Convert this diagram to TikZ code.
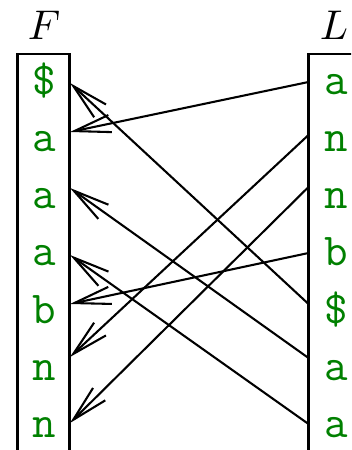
\documentclass[tikz,border=0pt]{standalone}
\usetikzlibrary{arrows.meta}
\definecolor{tgreen}{rgb}{0,0.5,0}
\begin{document}
\begin{tikzpicture}[x=0.2409pt,y=-0.2409pt,
  sym/.style={text=tgreen,font=\fontsize{11}{13}\selectfont\ttfamily,anchor=base,inner sep=0pt},
  lab/.style={anchor=base,inner sep=0pt},
  colbox/.style={draw,line width=0.5pt},
  link/.style={-{Straight Barb[length=8.8pt,width=4.2pt]},line width=0.5pt}]
\useasboundingbox (0,0) rectangle (351,450);
\clip (0,0) rectangle (351,450);
% columns
\draw[colbox] (17.5,54) rectangle (69.5,480);
\draw[colbox] (308.5,54) rectangle (366,480);
% labels
\node[lab] (F) at (44,40) {$F$};
\node[lab] (L) at (334,40) {$L$};
% F column
\node[sym] (f1) at (44,94.3) {\$};
\node[sym] (f2) at (44,151.5) {a};
\node[sym] (f3) at (44,208.7) {a};
\node[sym] (f4) at (44,265.9) {a};
\node[sym] (f5) at (44,323.1) {b};
\node[sym] (f6) at (44,380.3) {n};
\node[sym] (f7) at (44,437.5) {n};
% L column
\node[sym] (l1) at (336,94.3) {a};
\node[sym] (l2) at (336,151.5) {n};
\node[sym] (l3) at (336,208.7) {n};
\node[sym] (l4) at (336,265.9) {b};
\node[sym] (l5) at (336,323.1) {\$};
\node[sym] (l6) at (336,380.3) {a};
\node[sym] (l7) at (336,437.5) {a};
% connector end points
\coordinate (fe1) at (70,83);
\coordinate (fe2) at (70,132);
\coordinate (fe3) at (70,188);
\coordinate (fe4) at (70,255);
\coordinate (fe5) at (70,304);
\coordinate (fe6) at (70,357);
\coordinate (fe7) at (70,423);
\coordinate (le1) at (308.5,82);
\coordinate (le2) at (308.5,135);
\coordinate (le3) at (308.5,187);
\coordinate (le4) at (308.5,253);
\coordinate (le5) at (308.5,304);
\coordinate (le6) at (308.5,358);
\coordinate (le7) at (308.5,424);
% LF mapping
\draw[link] (le1) -- (fe2);
\draw[link] (le2) -- (fe6);
\draw[link] (le3) -- (fe7);
\draw[link] (le4) -- (fe5);
\draw[link] (le5) -- (fe1);
\draw[link] (le6) -- (fe3);
\draw[link] (le7) -- (fe4);
\end{tikzpicture}
\end{document}
